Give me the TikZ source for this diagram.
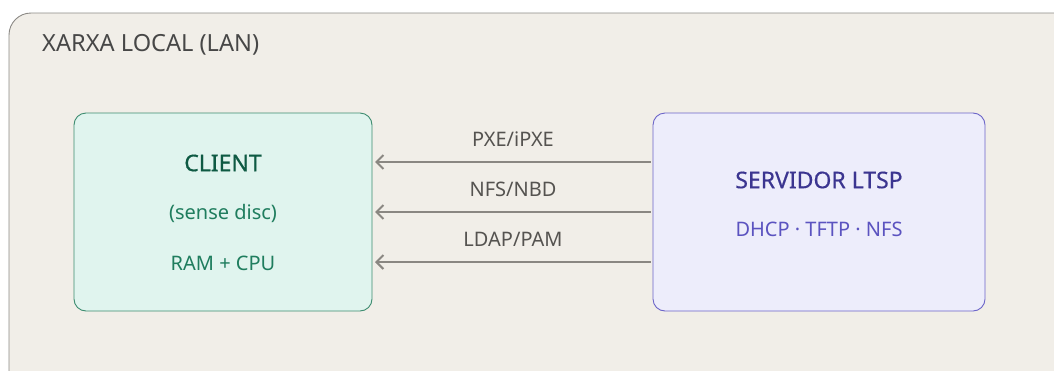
\documentclass[tikz,border=0pt]{standalone}
\usepackage{fontspec}
\setmainfont{Noto Sans}
\newfontfamily\medfont[FakeBold=0.5]{Noto Sans}
\usepackage{tikz}
\usetikzlibrary{arrows.meta, positioning}
\definecolor{lanbg}{HTML}{F1EEE8}
\definecolor{lanline}{HTML}{8C8A86}
\definecolor{clifill}{HTML}{E0F4EE}
\definecolor{cliline}{HTML}{3D8C70}
\definecolor{clidark}{HTML}{0E5A43}
\definecolor{clitext}{HTML}{1F7D5E}
\definecolor{srvfill}{HTML}{EDEDFB}
\definecolor{srvline}{HTML}{6B64C8}
\definecolor{srvdark}{HTML}{3B3590}
\definecolor{srvtext}{HTML}{5B53C0}
\definecolor{linkcol}{HTML}{8A8782}
\definecolor{labcol}{HTML}{555350}
\tikzset{
  box/.style = {rounded corners=12pt, line width=0.9pt},
  cli/.style = {box, fill=clifill, draw=cliline},
  srv/.style = {box, fill=srvfill, draw=srvline},
  txt/.style = {inner sep=0pt, font=\fontsize{20}{24}\selectfont},
  head/.style = {inner sep=0pt, font=\medfont\fontsize{23}{27}\selectfont},
  link/.style = {{Straight Barb[length=7pt, width=14pt, line width=2pt]}-, line width=2.4pt, draw=linkcol},
  linklab/.style = {txt, text=labcol}
}

\begin{document}
\begin{tikzpicture}[x=1pt, y=-1pt]
\useasboundingbox (0,0) rectangle (1054,370);
% lan area
\draw[rounded corners=22pt, fill=lanbg, draw=lanline, line width=0.9pt]
  (9,400) -- (9,13) -- (1080,13) -- (1080,400) -- cycle;
\node[txt, anchor=west, text=black!72, font=\fontsize{23.6}{27}\selectfont] (lan) at (42,45) {XARXA LOCAL (LAN)};

% client box
\draw[cli] (74,113) rectangle (372,311);
\node[head, text=clidark] (cli) at (223,163) {CLIENT};
\node[txt, text=clitext] (clidisc) at (223,213) {(sense disc)};
\node[txt, text=clitext] (clihw) at (223,263) {RAM + CPU};

% server box
\draw[srv] (653,113) rectangle (985,311);
\node[head, text=srvdark] (srv) at (819,180) {SERVIDOR LTSP};
\node[txt, text=srvtext] (srvsvc) at (819,229) {DHCP · TFTP · NFS};

% links
\foreach \y/\name/\lab in {162/pxe/{PXE/iPXE}, 212/nfs/{NFS/NBD}, 262/ldap/{LDAP/PAM}}{
  \coordinate (\name-c) at (375,\y);
  \coordinate (\name-s) at (651,\y);
  \draw[link] (\name-c) -- (\name-s);
  \node[linklab] (\name-lab) at (513,\y-23) {\lab};
}
\end{tikzpicture}
\end{document}
